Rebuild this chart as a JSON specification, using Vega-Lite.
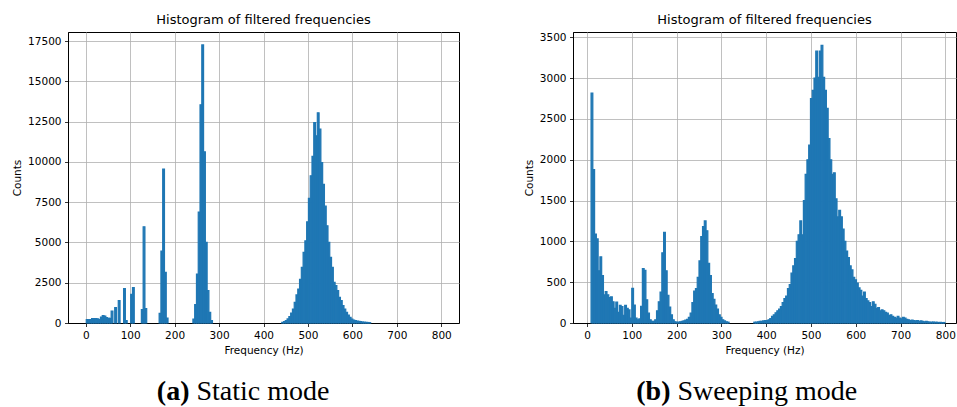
{
  "$schema": "https://vega.github.io/schema/vega-lite/v6.json",
  "padding": {"left": 12, "top": 13, "right": 0, "bottom": 0},
  "config": {
    "font": "DejaVu Sans",
    "view": {"stroke": "black", "strokeWidth": 1},
    "bar": {"binSpacing": 0},
    "axis": {
      "labelFont": "DejaVu Sans", "labelFontSize": 10.5, "labelColor": "black",
      "titleFont": "DejaVu Sans", "titleFontSize": 10.5, "titleFontWeight": "normal", "titleColor": "black",
      "tickColor": "black", "tickSize": 3.5, "tickWidth": 0.8, "domainColor": "black", "domainWidth": 1,
      "grid": true, "gridColor": "#b0b0b0", "gridWidth": 0.8, "labelPadding": 3.5, "titlePadding": 5, "zindex": 1
    },
    "title": {"font": "DejaVu Sans", "fontSize": 13, "fontWeight": "normal", "color": "black", "offset": 5}
  },
  "spacing": 63,
  "hconcat": [
    {
      "spacing": 21,
      "vconcat": [
        {
          "title": "Histogram of filtered frequencies",
          "width": 391, "height": 291,
          "data": {"values": [
            {"a":0,"c":207},{"a":4,"c":207},{"a":8,"c":215},{"a":12,"c":270},{"a":16,"c":270},{"a":20,"c":270},{"a":24,"c":250},{"a":28,"c":210},{"a":32,"c":370},{"a":36,"c":455},{"a":40,"c":430},{"a":44,"c":330},{"a":48,"c":290},{"a":52,"c":290},{"a":56,"c":744},{"a":64,"c":950},{"a":72,"c":1385},{"a":84,"c":2129},{"a":88,"c":145},{"a":100,"c":1778},{"a":104,"c":2190},{"a":124,"c":827},{"a":128,"c":5973},{"a":132,"c":889},{"a":164,"c":600},{"a":168,"c":4465},{"a":172,"c":9550},{"a":176,"c":3142},{"a":180,"c":310},{"a":240,"c":248},{"a":244,"c":1137},{"a":248,"c":3039},{"a":252,"c":6883},{"a":256,"c":13540},{"a":260,"c":17260},{"a":264,"c":10625},{"a":268,"c":5000},{"a":272,"c":2005},{"a":276,"c":660},{"a":280,"c":145},
            {"a":440,"c":40},{"a":444,"c":83},{"a":448,"c":145},{"a":452,"c":250},{"a":456,"c":390},{"a":460,"c":620},{"a":464,"c":870},{"a":468,"c":1280},{"a":472,"c":1740},{"a":476,"c":2110},{"a":480,"c":2710},{"a":484,"c":3450},{"a":488,"c":4380},{"a":492,"c":5100},{"a":496,"c":6280},{"a":500,"c":7730},{"a":504,"c":9140},{"a":508,"c":10335},{"a":512,"c":12440},{"a":516,"c":11620},{"a":520,"c":13050},{"a":524,"c":12030},{"a":528,"c":9960},{"a":532,"c":8600},{"a":536,"c":7250},{"a":540,"c":6035},{"a":544,"c":5000},{"a":548,"c":4070},{"a":552,"c":3450},{"a":556,"c":2520},{"a":560,"c":2315},{"a":564,"c":2005},{"a":568,"c":1590},{"a":572,"c":1385},{"a":576,"c":1075},{"a":580,"c":870},{"a":584,"c":660},{"a":588,"c":495},{"a":592,"c":350},{"a":596,"c":248},{"a":600,"c":186},{"a":604,"c":145},{"a":608,"c":124},{"a":612,"c":100},{"a":616,"c":83},{"a":620,"c":60},{"a":624,"c":50},{"a":628,"c":40},{"a":632,"c":30},{"a":636,"c":20}
          ]},
          "mark": {"type": "bar", "color": "#1f77b4", "stroke": "#1f77b4", "strokeWidth": 1.2, "binSpacing": 0},
          "encoding": {
            "x": {"field": "a", "type": "quantitative", "bin": {"binned": true, "step": 4},
                  "scale": {"domain": [-40, 840], "nice": false, "zero": false},
                  "axis": {"title": "Frequency (Hz)", "grid": true, "values": [0,100,200,300,400,500,600,700,800], "format": "d"}},
            "y": {"field": "c", "type": "quantitative",
                  "scale": {"domain": [0, 18060], "nice": false},
                  "axis": {"title": "Counts", "values": [0,2500,5000,7500,10000,12500,15000,17500], "format": "d"}}
          }
        },
        {
          "width": 391, "height": 26,
          "view": {"stroke": null},
          "data": {"values": [{"p": "(a)", "q": "Static mode"}]},
          "layer": [
            {"mark": {"type": "text", "font": "Liberation Serif", "fontSize": 28, "fontWeight": "bold", "align": "right", "baseline": "middle", "dx": -74, "color": "black"},
             "encoding": {"text": {"field": "p"}}},
            {"mark": {"type": "text", "font": "Liberation Serif", "fontSize": 28, "align": "left", "baseline": "middle", "dx": -67, "color": "black"},
             "encoding": {"text": {"field": "q"}}}
          ]
        }
      ]
    },
    {
      "spacing": 21,
      "vconcat": [
        {
          "title": "Histogram of filtered frequencies",
          "width": 383, "height": 291,
          "data": {"values": [
            {"a":8.00,"c":2815},{"a":11.95,"c":1880},{"a":15.90,"c":1090},{"a":19.85,"c":1030},{"a":23.80,"c":640},{"a":27.75,"c":810},{"a":31.70,"c":580},{"a":35.65,"c":345},{"a":39.60,"c":385},{"a":43.55,"c":345},{"a":47.50,"c":310},{"a":51.45,"c":320},{"a":55.40,"c":260},{"a":59.35,"c":180},{"a":63.30,"c":255},{"a":67.25,"c":130},{"a":71.20,"c":215},{"a":75.15,"c":200},{"a":79.10,"c":95},{"a":83.05,"c":215},{"a":87.00,"c":180},{"a":90.95,"c":160},{"a":94.90,"c":60},{"a":98.85,"c":425},{"a":102.80,"c":220},{"a":106.75,"c":60},{"a":110.70,"c":40},{"a":114.65,"c":50},{"a":118.60,"c":205},{"a":122.55,"c":665},{"a":126.50,"c":645},{"a":130.45,"c":285},{"a":134.40,"c":120},{"a":138.35,"c":40},{"a":142.30,"c":20},{"a":146.25,"c":20},{"a":150.20,"c":40},{"a":154.15,"c":150},{"a":158.10,"c":260},{"a":162.05,"c":380},{"a":166.00,"c":860},{"a":169.95,"c":1110},{"a":173.90,"c":640},{"a":177.85,"c":340},{"a":181.80,"c":195},{"a":185.75,"c":100},{"a":189.70,"c":40},{"a":193.65,"c":15},{"a":197.60,"c":10},{"a":201.55,"c":10},{"a":205.50,"c":15},{"a":209.45,"c":20},{"a":213.40,"c":25},{"a":217.35,"c":35},{"a":221.30,"c":45},{"a":225.25,"c":70},{"a":229.20,"c":120},{"a":233.15,"c":250},{"a":237.10,"c":390},{"a":241.05,"c":420},{"a":245.00,"c":560},{"a":248.95,"c":760},{"a":252.90,"c":1060},{"a":256.85,"c":1180},{"a":260.80,"c":1250},{"a":264.75,"c":1130},{"a":268.70,"c":730},{"a":272.65,"c":580},{"a":276.60,"c":360},{"a":280.55,"c":290},{"a":284.50,"c":220},{"a":288.45,"c":170},{"a":292.40,"c":100},{"a":296.35,"c":70},{"a":300.30,"c":40},{"a":304.25,"c":25},{"a":308.20,"c":15},{"a":312.15,"c":10},
            {"a":371.40,"c":10},{"a":375.35,"c":10},{"a":379.30,"c":15},{"a":383.25,"c":20},{"a":387.20,"c":20},{"a":391.15,"c":25},{"a":395.10,"c":30},{"a":399.05,"c":30},{"a":403.00,"c":40},{"a":406.95,"c":55},{"a":410.90,"c":80},{"a":414.85,"c":100},{"a":418.80,"c":125},{"a":422.75,"c":150},{"a":426.70,"c":170},{"a":430.65,"c":200},{"a":434.60,"c":250},{"a":438.55,"c":300},{"a":442.50,"c":330},{"a":446.45,"c":420},{"a":450.40,"c":470},{"a":454.35,"c":610},{"a":458.30,"c":700},{"a":462.25,"c":790},{"a":466.20,"c":1000},{"a":470.15,"c":1080},{"a":474.10,"c":1250},{"a":478.05,"c":1080},{"a":482.00,"c":1500},{"a":485.95,"c":1820},{"a":489.90,"c":2000},{"a":493.85,"c":2180},{"a":497.80,"c":2750},{"a":501.75,"c":2850},{"a":505.70,"c":3000},{"a":509.65,"c":3330},{"a":513.60,"c":3010},{"a":517.55,"c":3330},{"a":521.50,"c":3400},{"a":525.45,"c":3010},{"a":529.40,"c":2850},{"a":533.35,"c":2630},{"a":537.30,"c":2260},{"a":541.25,"c":2000},{"a":545.20,"c":1820},{"a":549.15,"c":1840},{"a":553.10,"c":1520},{"a":557.05,"c":1300},{"a":561.00,"c":1380},{"a":564.95,"c":1300},{"a":568.90,"c":1150},{"a":572.85,"c":1000},{"a":576.80,"c":880},{"a":580.75,"c":800},{"a":584.70,"c":700},{"a":588.65,"c":650},{"a":592.60,"c":560},{"a":596.55,"c":530},{"a":600.50,"c":490},{"a":604.45,"c":430},{"a":608.40,"c":400},{"a":612.35,"c":330},{"a":616.30,"c":380},{"a":620.25,"c":300},{"a":624.20,"c":270},{"a":628.15,"c":250},{"a":632.10,"c":200},{"a":636.05,"c":260},{"a":640.00,"c":230},{"a":643.95,"c":180},{"a":647.90,"c":190},{"a":651.85,"c":150},{"a":655.80,"c":160},{"a":659.75,"c":150},{"a":663.70,"c":130},{"a":667.65,"c":120},{"a":671.60,"c":90},{"a":675.55,"c":100},{"a":679.50,"c":80},{"a":683.45,"c":70},{"a":687.40,"c":60},{"a":691.35,"c":80},{"a":695.30,"c":60},{"a":699.25,"c":50},{"a":703.20,"c":70},{"a":707.15,"c":60},{"a":711.10,"c":45},{"a":715.05,"c":40},{"a":719.00,"c":30},{"a":722.95,"c":35},{"a":726.90,"c":30},{"a":730.85,"c":25},{"a":734.80,"c":30},{"a":738.75,"c":20},{"a":742.70,"c":25},{"a":746.65,"c":20},{"a":750.60,"c":15},{"a":754.55,"c":20},{"a":758.50,"c":15},{"a":762.45,"c":10},{"a":766.40,"c":10},{"a":770.35,"c":12},{"a":774.30,"c":8},{"a":778.25,"c":10},{"a":782.20,"c":5},{"a":786.15,"c":8},{"a":790.10,"c":5},{"a":794.05,"c":6}
          ]},
          "mark": {"type": "bar", "color": "#1f77b4", "stroke": "#1f77b4", "strokeWidth": 1.2, "binSpacing": 0},
          "encoding": {
            "x": {"field": "a", "type": "quantitative", "bin": {"binned": true, "step": 3.95},
                  "scale": {"domain": [-31.2, 823.8], "nice": false, "zero": false},
                  "axis": {"title": "Frequency (Hz)", "grid": true, "values": [0,100,200,300,400,500,600,700,800], "format": "d"}},
            "y": {"field": "c", "type": "quantitative",
                  "scale": {"domain": [0, 3565], "nice": false},
                  "axis": {"title": "Counts", "values": [0,500,1000,1500,2000,2500,3000,3500], "format": "d"}}
          }
        },
        {
          "width": 383, "height": 26,
          "view": {"stroke": null},
          "data": {"values": [{"p": "(b)", "q": "Sweeping mode"}]},
          "layer": [
            {"mark": {"type": "text", "font": "Liberation Serif", "fontSize": 28, "fontWeight": "bold", "align": "right", "baseline": "middle", "dx": -94, "color": "black"},
             "encoding": {"text": {"field": "p"}}},
            {"mark": {"type": "text", "font": "Liberation Serif", "fontSize": 28, "align": "left", "baseline": "middle", "dx": -87, "color": "black"},
             "encoding": {"text": {"field": "q"}}}
          ]
        }
      ]
    }
  ]
}
